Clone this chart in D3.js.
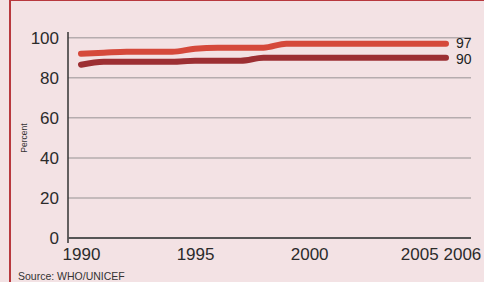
<!DOCTYPE html>
<html lang="en">
<head>
  <meta charset="UTF-8">
  <title>Coverage chart</title>
  <script src="https://d3js.org/d3.v7.min.js"></script>
  <style>
    html, body { margin: 0; padding: 0; background: #f3e2e4; }
    svg { display: block; font-family: "Liberation Sans", Arial, sans-serif; }
  </style>
</head>
<body>
  <svg width="484" height="282"></svg>

  <script>
    // Data
    const years = [1990, 1991, 1992, 1993, 1994, 1995, 1996, 1997, 1998, 1999, 2000, 2001, 2002, 2003, 2004, 2005, 2006];
    const upperValues = [92, 92.5, 93, 93, 93, 94.5, 95, 95, 95, 97, 97, 97, 97, 97, 97, 97, 97];
    const lowerValues = [86.5, 88, 88, 88, 88, 88.5, 88.5, 88.5, 90, 90, 90, 90, 90, 90, 90, 90, 90];
    const yTicks = [0, 20, 40, 60, 80, 100];
    const xTicks = [1990, 1995, 2000, 2005, 2006];

    const svg = d3.select("svg");

    // Frame
    svg.append("rect")
      .attr("x", 10).attr("y", 0)
      .attr("width", 490).attr("height", 300)
      .attr("fill", "#f3e2e4")
      .attr("stroke", "#b8393e")
      .attr("stroke-width", 2);

    const x = d3.scaleLinear().domain([1990, 2006]).range([81, 446]);
    const y = d3.scaleLinear().domain([0, 100]).range([238, 37.7]);

    // Gridlines
    svg.append("g")
      .selectAll("line")
      .data(yTicks.filter(d => d > 0))
      .enter().append("line")
      .attr("x1", 68).attr("x2", 471)
      .attr("y1", d => y(d)).attr("y2", d => y(d))
      .attr("stroke", "#b5acae")
      .attr("stroke-width", 1.5);

    // Y axis
    const yAxis = svg.append("g")
      .attr("transform", "translate(68,0)")
      .call(d3.axisLeft(y).tickValues(yTicks).tickSize(0).tickPadding(9));
    yAxis.select(".domain").remove();
    yAxis.selectAll("text")
      .attr("font-size", 17)
      .attr("font-family", "Liberation Sans, Arial, sans-serif")
      .attr("fill", "#2b2b2b");

    svg.append("line")
      .attr("x1", 68).attr("x2", 68)
      .attr("y1", 32).attr("y2", 243)
      .attr("stroke", "#333")
      .attr("stroke-width", 1.5);
    svg.append("line")
      .attr("x1", 68).attr("x2", 471)
      .attr("y1", y(0)).attr("y2", y(0))
      .attr("stroke", "#555")
      .attr("stroke-width", 2);

    // X axis labels
    const xAxis = svg.append("g")
      .attr("transform", "translate(0," + y(0) + ")")
      .call(d3.axisBottom(x).tickValues(xTicks).tickFormat(d3.format("d")).tickSize(0).tickPadding(10));
    xAxis.select(".domain").remove();
    xAxis.selectAll("text")
      .attr("font-size", 17)
      .attr("font-family", "Liberation Sans, Arial, sans-serif")
      .attr("fill", "#2b2b2b")
      .attr("text-anchor", d => d === 2006 ? "start" : (d === 2005 ? "end" : "middle"))
      .attr("dx", d => d === 2006 ? -3 : (d === 2005 ? 15 : 0));

    // Y label
    svg.append("text")
      .attr("transform", "translate(27,138) rotate(-90)")
      .attr("text-anchor", "middle")
      .attr("font-size", 8.5)
      .attr("fill", "#333")
      .text("Percent");

    // Lines
    const line = vals => d3.line()
      .x((d, i) => x(years[i]))
      .y(d => y(d))
      .curve(d3.curveMonotoneX)(vals);

    svg.append("path")
      .attr("d", line(lowerValues))
      .attr("fill", "none")
      .attr("stroke", "#9c2f33")
      .attr("stroke-width", 6)
      .attr("stroke-linecap", "round");

    svg.append("path")
      .attr("d", line(upperValues))
      .attr("fill", "none")
      .attr("stroke", "#d5493b")
      .attr("stroke-width", 6)
      .attr("stroke-linecap", "round");

    // End labels
    svg.append("text")
      .attr("x", 456).attr("y", y(upperValues[upperValues.length - 1]) + 4)
      .attr("font-size", 14).attr("fill", "#222")
      .text(upperValues[upperValues.length - 1]);
    svg.append("text")
      .attr("x", 456).attr("y", y(lowerValues[lowerValues.length - 1]) + 6)
      .attr("font-size", 14).attr("fill", "#222")
      .text(lowerValues[lowerValues.length - 1]);

    // Source
    svg.append("text")
      .attr("x", 18).attr("y", 280)
      .attr("font-size", 10.5)
      .attr("fill", "#333")
      .text("Source: WHO/UNICEF");
  </script>
</body>
</html>
